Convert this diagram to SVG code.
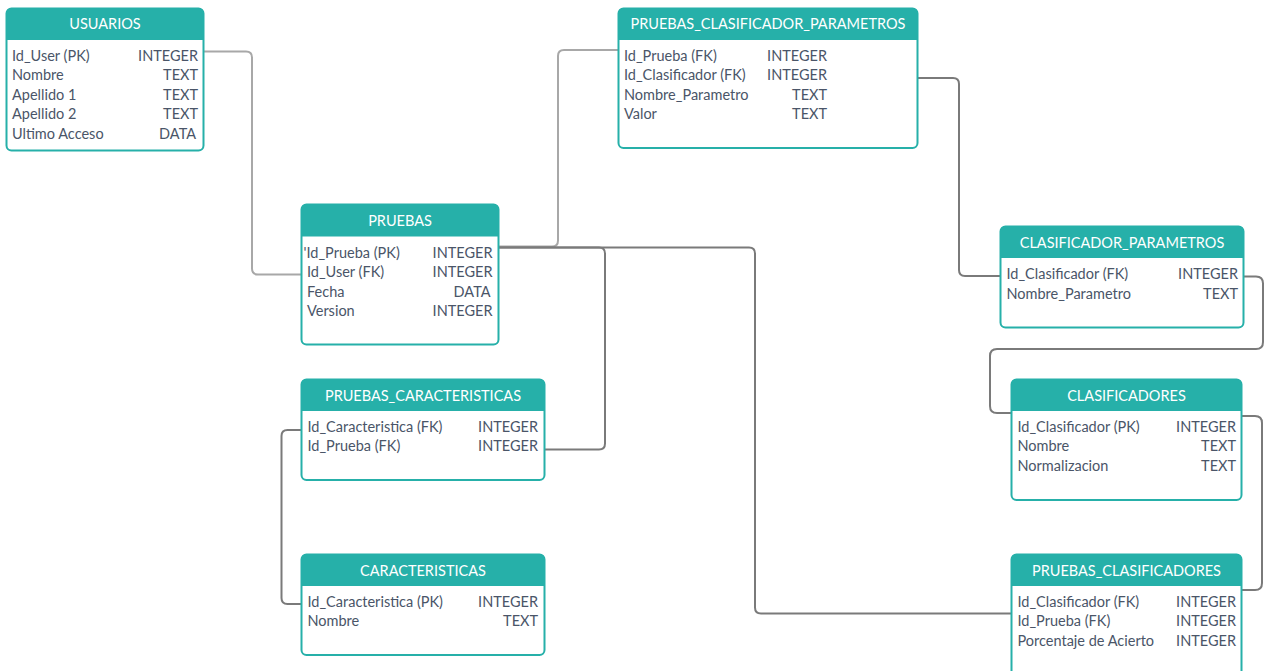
<svg xmlns="http://www.w3.org/2000/svg" width="1264" height="671" viewBox="0 0 1264 671">
<style>
.box{fill:#fff;stroke:#26b0a9;stroke-width:2}
.hd{fill:#26b0a9}
.ht{font-family:Lato,"Open Sans",sans-serif;font-size:14.5px;fill:#ffffff;text-anchor:middle}
.t{font-family:Lato,"Open Sans",sans-serif;font-size:14.5px;fill:#4a5568}
.r{text-anchor:end}
.c{fill:none;stroke:#7a7a7a;stroke-width:2}
.cl{fill:none;stroke:#a8a8a8;stroke-width:2}
</style>
<rect width="1264" height="671" fill="#fff"/>
<g id="connectors">
<path class="cl" d="M204,51.5 H246 Q252,51.5 252,57.5 V268.5 Q252,274.5 258,274.5 H301"/>
<path class="cl" d="M499,246.5 H552 Q558,246.5 558,240.5 V56 Q558,50 564,50 H618"/>
<path class="c" d="M499,247.5 H599 Q605,247.5 605,253.5 V443.5 Q605,449.5 599,449.5 H545"/>
<path class="c" d="M499,247.5 H749 Q755,247.5 755,253.5 V607.5 Q755,613.5 761,613.5 H1011"/>
<path class="c" d="M918,78 H953 Q959,78 959,84 V270 Q959,276 965,276 H1000"/>
<path class="c" d="M1244,276.5 H1256 Q1263,276.5 1263,283.5 V342 Q1263,349 1256,349 H997 Q990,349 990,356 V406 Q990,413 997,413 H1011"/>
<path class="c" d="M1242,416 H1255 Q1262,416 1262,423 V583 Q1262,590 1255,590 H1242"/>
<path class="c" d="M301,430 H287.5 Q281.5,430 281.5,436 V598 Q281.5,604 287.5,604 H301"/>
</g>
<g id="usuarios">
<rect class="box" x="6.5" y="8.5" width="197" height="142" rx="5"/>
<path class="hd" d="M6.5,40 V13.5 Q6.5,8.5 11.5,8.5 H198.5 Q203.5,8.5 203.5,13.5 V40 Z"/>
<text class="ht" x="105" y="29">USUARIOS</text>
<text class="t" x="12" y="60.5">Id_User (PK)</text><text class="t r" x="198" y="60.5">INTEGER</text>
<text class="t" x="12" y="80">Nombre</text><text class="t r" x="198" y="80">TEXT</text>
<text class="t" x="12" y="99.5">Apellido 1</text><text class="t r" x="198" y="99.5">TEXT</text>
<text class="t" x="12" y="119">Apellido 2</text><text class="t r" x="198" y="119">TEXT</text>
<text class="t" x="12" y="138.5">Ultimo Acceso</text><text class="t r" x="196" y="138.5">DATA</text>
</g>
<g id="pruebas">
<rect class="box" x="301.5" y="204.5" width="197" height="140" rx="5"/>
<path class="hd" d="M301.5,236.5 V209.5 Q301.5,204.5 306.5,204.5 H493.5 Q498.5,204.5 498.5,209.5 V236.5 Z"/>
<text class="ht" x="400" y="225.5">PRUEBAS</text>
<text class="t" x="303.5" y="257.5">'Id_Prueba (PK)</text><text class="t r" x="492.5" y="257.5">INTEGER</text>
<text class="t" x="307" y="277">Id_User (FK)</text><text class="t r" x="492.5" y="277">INTEGER</text>
<text class="t" x="307" y="296.5">Fecha</text><text class="t r" x="490.5" y="296.5">DATA</text>
<text class="t" x="307" y="316">Version</text><text class="t r" x="492.5" y="316">INTEGER</text>
</g>
<g id="pruebas_clasificador_parametros">
<rect class="box" x="618.5" y="8.5" width="299" height="139.5" rx="5"/>
<path class="hd" d="M618.5,40 V13.5 Q618.5,8.5 623.5,8.5 H912.5 Q917.5,8.5 917.5,13.5 V40 Z"/>
<text class="ht" x="768" y="29">PRUEBAS_CLASIFICADOR_PARAMETROS</text>
<text class="t" x="624" y="60.5">Id_Prueba (FK)</text><text class="t r" x="827" y="60.5">INTEGER</text>
<text class="t" x="624" y="80">Id_Clasificador (FK)</text><text class="t r" x="827" y="80">INTEGER</text>
<text class="t" x="624" y="99.5">Nombre_Parametro</text><text class="t r" x="827" y="99.5">TEXT</text>
<text class="t" x="624" y="119">Valor</text><text class="t r" x="827" y="119">TEXT</text>
</g>
<g id="clasificador_parametros">
<rect class="box" x="1000.5" y="226.5" width="243" height="101" rx="5"/>
<path class="hd" d="M1000.5,258 V231.5 Q1000.5,226.5 1005.5,226.5 H1238.5 Q1243.5,226.5 1243.5,231.5 V258 Z"/>
<text class="ht" x="1122" y="247.5">CLASIFICADOR_PARAMETROS</text>
<text class="t" x="1006.5" y="279">Id_Clasificador (FK)</text><text class="t r" x="1238" y="279">INTEGER</text>
<text class="t" x="1006.5" y="298.5">Nombre_Parametro</text><text class="t r" x="1238" y="298.5">TEXT</text>
</g>
<g id="clasificadores">
<rect class="box" x="1011.5" y="379.5" width="230" height="120.5" rx="5"/>
<path class="hd" d="M1011.5,411 V384.5 Q1011.5,379.5 1016.5,379.5 H1236.5 Q1241.5,379.5 1241.5,384.5 V411 Z"/>
<text class="ht" x="1126.5" y="400.5">CLASIFICADORES</text>
<text class="t" x="1017.5" y="431.5">Id_Clasificador (PK)</text><text class="t r" x="1236" y="431.5">INTEGER</text>
<text class="t" x="1017.5" y="451">Nombre</text><text class="t r" x="1236" y="451">TEXT</text>
<text class="t" x="1017.5" y="470.5">Normalizacion</text><text class="t r" x="1236" y="470.5">TEXT</text>
</g>
<g id="pruebas_clasificadores">
<rect class="box" x="1011.5" y="554.5" width="230" height="130" rx="5"/>
<path class="hd" d="M1011.5,586 V559.5 Q1011.5,554.5 1016.5,554.5 H1236.5 Q1241.5,554.5 1241.5,559.5 V586 Z"/>
<text class="ht" x="1126.5" y="575.5">PRUEBAS_CLASIFICADORES</text>
<text class="t" x="1017.5" y="606.5">Id_Clasificador (FK)</text><text class="t r" x="1236" y="606.5">INTEGER</text>
<text class="t" x="1017.5" y="626">Id_Prueba (FK)</text><text class="t r" x="1236" y="626">INTEGER</text>
<text class="t" x="1017.5" y="645.5">Porcentaje de Acierto</text><text class="t r" x="1236" y="645.5">INTEGER</text>
</g>
<g id="pruebas_caracteristicas">
<rect class="box" x="301.5" y="379.5" width="243" height="100.5" rx="5"/>
<path class="hd" d="M301.5,411 V384.5 Q301.5,379.5 306.5,379.5 H539.5 Q544.5,379.5 544.5,384.5 V411 Z"/>
<text class="ht" x="423" y="400.5">PRUEBAS_CARACTERISTICAS</text>
<text class="t" x="307.5" y="431.5">Id_Caracteristica (FK)</text><text class="t r" x="538" y="431.5">INTEGER</text>
<text class="t" x="307.5" y="451">Id_Prueba (FK)</text><text class="t r" x="538" y="451">INTEGER</text>
</g>
<g id="caracteristicas">
<rect class="box" x="301.5" y="554.5" width="243" height="100.5" rx="5"/>
<path class="hd" d="M301.5,586 V559.5 Q301.5,554.5 306.5,554.5 H539.5 Q544.5,554.5 544.5,559.5 V586 Z"/>
<text class="ht" x="423" y="575.5">CARACTERISTICAS</text>
<text class="t" x="307.5" y="606.5">Id_Caracteristica (PK)</text><text class="t r" x="538" y="606.5">INTEGER</text>
<text class="t" x="307.5" y="626">Nombre</text><text class="t r" x="538" y="626">TEXT</text>
</g>
</svg>
